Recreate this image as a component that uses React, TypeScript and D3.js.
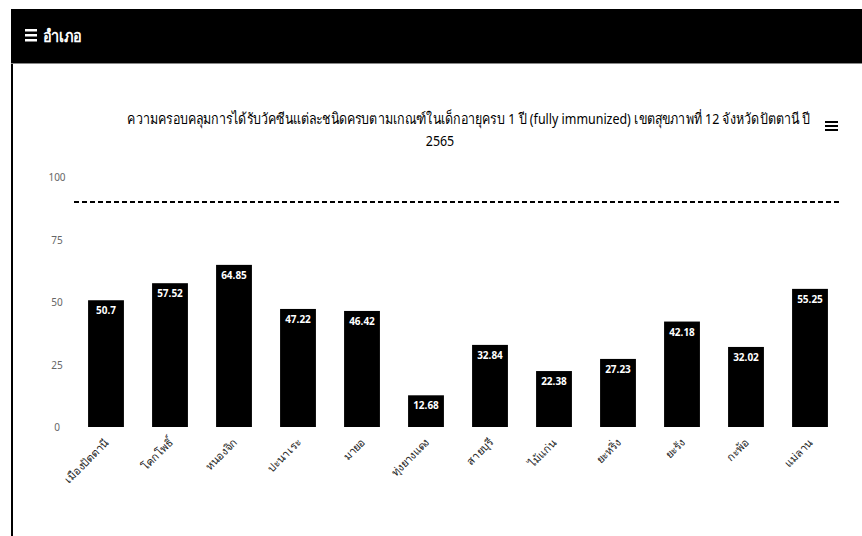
import React from "react";
import * as d3 from "d3";

const categories = [
  "เมืองปัตตานี",
  "โคกโพธิ์",
  "หนองจิก",
  "ปะนาเระ",
  "มายอ",
  "ทุ่งยางแดง",
  "สายบุรี",
  "ไม้แก่น",
  "ยะหริ่ง",
  "ยะรัง",
  "กะพ้อ",
  "แม่ลาน",
];
const values = [50.7, 57.52, 64.85, 47.22, 46.42, 12.68, 32.84, 22.38, 27.23, 42.18, 32.02, 55.25];
const yTicks = [0, 25, 50, 75, 100];
const targetValue = 90;
const headerText = "อำเภอ";
const titleLine1 =
  "ความครอบคลุมการได้รับวัคซีนแต่ละชนิดครบตามเกณฑ์ในเด็กอายุครบ 1 ปี (fully immunized) เขตสุขภาพที่ 12 จังหวัดปัตตานี ปี";
const titleLine2 = "2565";

const W = 862;
const H = 536;
const FONT = "'Noto Sans', 'Liberation Sans', sans-serif";

export default function App() {
  const x = d3.scaleBand<string>().domain(categories).range([74, 842]).paddingInner(0.44).paddingOuter(0.22);
  const y = d3.scaleLinear().domain([0, 100]).range([427, 177]);

  return (
    <div style={{ position: "absolute", left: 0, top: 0 }}>
      <svg width={W} height={H} style={{ display: "block", fontFamily: FONT }}>
        <rect x={0} y={0} width={W} height={H} fill="#fff" />
        {/* card left border */}
        <rect x={11} y={9} width={2} height={H - 9} fill="#000" />
        {/* header */}
        <rect x={11} y={9} width={W - 11} height={54} fill="#000" />
        <line x1={11} x2={W} y1={63.5} y2={63.5} stroke="#888" strokeWidth={1} />
        <g fill="#fff">
          <rect x={25} y={29} width={12} height={2.5} />
          <rect x={25} y={34} width={12} height={2.5} />
          <rect x={25} y={39} width={12} height={2.5} />
        </g>
        <text transform="translate(43,42) scale(0.85,1)" fill="#fff" fontSize={17} fontWeight={700}>
          {headerText}
        </text>

        {/* title */}
        <text transform="translate(469,124) scale(0.83,1)" textAnchor="middle" fontSize={15} fill="#000">
          {titleLine1}
        </text>
        <text transform="translate(440,146) scale(0.83,1)" textAnchor="middle" fontSize={15} fill="#000">
          {titleLine2}
        </text>
        {/* context menu icon */}
        <g fill="#000">
          <rect x={825} y={121} width={13} height={2} />
          <rect x={825} y={125} width={13} height={2} />
          <rect x={825} y={129} width={13} height={2} />
        </g>

        {/* y axis labels */}
        {yTicks.map((t) => (
          <text key={t} x={57} y={y(t) + 4} textAnchor="middle" fontSize={10} fill="#666">
            {t}
          </text>
        ))}

        {/* bars */}
        {values.map((v, i) => (
          <rect
            key={categories[i]}
            x={x(categories[i])}
            y={y(v)}
            width={x.bandwidth()}
            height={y(0) - y(v)}
            fill="#000"
          />
        ))}
        {/* data labels */}
        {values.map((v, i) => (
          <text
            key={"l" + i}
            x={(x(categories[i]) as number) + x.bandwidth() / 2}
            y={y(v) + 14}
            textAnchor="middle"
            fontSize={10}
            fontWeight={700}
            fill="#fff"
          >
            {v}
          </text>
        ))}

        {/* target line */}
        <line
          x1={74}
          x2={842}
          y1={y(targetValue)}
          y2={y(targetValue)}
          stroke="#000"
          strokeWidth={2}
          strokeDasharray="5,3"
        />

        {/* x labels */}
        {categories.map((c) => {
          const cx = (x(c) as number) + x.bandwidth() / 2 + 4;
          const cy = 443;
          return (
            <text
              key={"x" + c}
              transform={`translate(${cx},${cy}) rotate(-45)`}
              textAnchor="end"
              fontSize={11}
              fill="#222"
            >
              {c}
            </text>
          );
        })}
      </svg>
    </div>
  );
}
